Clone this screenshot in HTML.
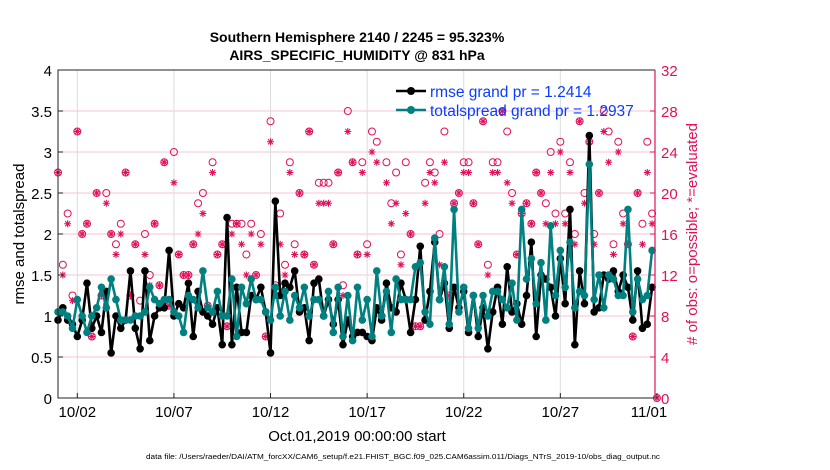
<!DOCTYPE html>
<html><head><meta charset="utf-8"><style>
body{margin:0;background:#fff;}
svg{display:block;font-family:"Liberation Sans",sans-serif;}
</style></head><body>
<svg id="chart" width="830" height="470" viewBox="0 0 830 470">
<text x="357" y="42" text-anchor="middle" font-size="14" font-weight="bold">Southern Hemisphere 2140 / 2245 = 95.323%</text>
<text x="357" y="60" text-anchor="middle" font-size="14" font-weight="bold">AIRS_SPECIFIC_HUMIDITY @ 831 hPa</text>
<g id="grid"></g><g id="counts"></g><g id="lines"></g><g id="axes"></g>
<text transform="translate(24,234) rotate(-90)" text-anchor="middle" font-size="15">rmse and totalspread</text>
<text transform="translate(697,234) rotate(-90)" text-anchor="middle" font-size="15" fill="#e0105a"># of obs: o=possible; *=evaluated</text>
<text x="357" y="441" text-anchor="middle" font-size="15">Oct.01,2019 00:00:00 start</text>
<text x="146" y="459" font-size="7" textLength="514" lengthAdjust="spacingAndGlyphs">data file: /Users/raeder/DAI/ATM_forcXX/CAM6_setup/f.e21.FHIST_BGC.f09_025.CAM6assim.011/Diags_NTrS_2019-10/obs_diag_output.nc</text>
<g>
<line x1="396" y1="91" x2="426" y2="91" stroke="#000" stroke-width="2.5"/><circle cx="411" cy="91" r="4" fill="#000"/>
<text x="430" y="97" font-size="15.5" fill="#0a3cff">rmse grand pr = 1.2414</text>
<line x1="396" y1="110" x2="426" y2="110" stroke="#008080" stroke-width="2.5"/><circle cx="411" cy="110" r="4" fill="#008080"/>
<text x="430" y="116" font-size="15.5" fill="#0a3cff">totalspread grand pr = 1.2937</text>
</g>
</svg>
<script>
const rmse=[0.95,1.1,0.95,0.9,0.75,0.95,1.4,0.85,1.0,0.8,1.3,0.55,1.0,0.85,0.95,1.55,0.85,0.6,1.55,0.7,1.0,1.1,1.1,1.8,1.0,1.15,1.1,1.4,0.75,1.3,1.05,1.0,0.9,1.1,0.65,2.2,0.65,1.35,0.8,0.8,
1.25,1.2,1.35,1.05,0.55,2.4,1.25,1.4,1.35,1.55,1.05,1.1,0.7,1.4,1.45,1.0,1.2,0.9,1.2,0.65,0.95,0.75,0.8,0.8,0.75,0.7,1.1,0.95,1.4,1.1,1.05,1.4,1.2,0.8,1.2,1.85,0.95,1.3,1.9,1.2,1.4,
0.85,1.35,1.1,1.3,0.8,1.25,0.75,1.1,0.6,1.05,1.35,0.9,1.6,1.05,1.15,0.9,1.25,1.9,0.75,1.5,1.45,1.35,1.0,1.7,1.15,2.3,0.65,1.55,1.15,3.2,1.05,1.1,1.5,1.45,1.55,1.3,1.5,1.35,0.95,1.55,0.85,0.9,1.35];
const spread=[1.05,1.05,1.0,0.85,1.2,1.0,0.8,1.0,1.1,1.35,1.1,1.45,1.2,0.95,0.95,0.95,1.0,1.0,1.05,1.35,1.2,1.15,1.2,1.2,1.05,1.0,0.8,1.25,1.2,1.1,1.55,1.1,1.05,1.3,1.0,1.0,1.45,0.75,1.35,1.15,
1.45,1.2,1.2,1.05,0.95,1.35,1.0,1.3,0.95,1.25,1.1,1.35,1.0,1.2,1.2,1.0,1.3,0.8,1.35,0.75,1.25,0.7,1.35,0.95,1.2,0.75,1.55,1.0,1.3,0.8,1.45,1.2,1.2,1.2,1.6,1.65,1.05,0.9,1.95,1.2,1.6,
0.9,2.3,1.05,1.35,0.85,1.25,0.85,1.25,1.0,1.3,1.3,1.2,1.1,1.4,0.95,2.3,1.45,1.7,1.15,1.65,0.95,2.1,1.25,1.8,1.35,1.9,1.1,1.3,1.25,2.85,1.2,1.5,1.1,1.5,1.45,1.25,1.25,2.3,1.05,1.45,1.2,1.25,1.8];
const possible=[22,13,18,10,26,16,17,6,20,10,20,16,15,17,22,10,15,9.5,16,12,17,11,23,9,24,14,12,12,15,19,20,9,23,14,15,7,17,17,17,14,
17,12,16,6,27,11,18,13,23,15,20,14,26,13,21,21,21,15,22,11,28,23,14,23,15,26,25,8,23,19,22,14,23,16,7,7,21,23,22,16,26,
10,19,20,23,23,19,15,27,13,23,23,28,26,20,14,18,19,17,22,20,19,24,18,25,18,23,16,27,20,25,16,20,28,26,15,25,18,15,6,20,17,25,18,0];
const evaluated=[22,12,17,9.5,26,16,17,6,20,10,19,16,14,16,22,10,15,8,14,11,17,11,23,9,21,14,12,12,15,16,18,9,22,14,15,7,16,17,15,12,
16,12,15,6,25,10,15,12,22,14,20,14,26,13,19,19,19,15,22,10,26,23,14,22,14,24,23,8,21,17,19,13,18,16,7,7,19,22,21,13,23,
10,19,20,22,22,19,15,27,12,22,22,28,21,19,14,18,19,17,22,20,17,22,17,24,17,22,15,27,19,25,15,20,26,23,14,24,17,15,6,20,15,22,17,0];
const leftTicks=[0,0.5,1,1.5,2,2.5,3,3.5,4];
const leftTickLabels=["0","0.5","1","1.5","2","2.5","3","3.5","4"];
const rightTicks=[0,4,8,12,16,20,24,28,32];
const dateTickDays=[1,6,11,16,21,26,31];
const dateTickLabels=["10/02","10/07","10/12","10/17","10/22","10/27","11/01"];
const stepDays=0.25;

const L=58,R=655,T=70,B=398,DMAX=30.9;
const xS=d=>L+d/DMAX*(R-L);
const yL=v=>B-v/4*(B-T);
const yR=c=>B-c/32*(B-T);
const NS="http://www.w3.org/2000/svg";
function mk(tag,attrs,parent){const e=document.createElementNS(NS,tag);for(const k in attrs)e.setAttribute(k,attrs[k]);parent.appendChild(e);return e;}
const grid=document.getElementById('grid'),counts=document.getElementById('counts'),lines=document.getElementById('lines'),axes=document.getElementById('axes');
const pink="#e0105a";
leftTicks.forEach((v,i)=>{
  if(v>0&&v<4){const g=mk('line',{x1:L,x2:R,y1:yL(v),y2:yL(v),stroke:'#f3c6d6','stroke-width':1},grid);
  
  }
  const t=mk('text',{x:L-6,y:yL(v)+6,'text-anchor':'end','font-size':15},axes);t.textContent=leftTickLabels[i];
  
  
  mk('line',{x1:L,x2:L+5,y1:yL(v),y2:yL(v),stroke:'#222'},axes);
});
rightTicks.forEach(c=>{
  const t=mk('text',{x:R+6,y:yR(c)+6,'font-size':15,fill:pink},axes);t.textContent=c;
  
  
  mk('line',{x1:R-5,x2:R,y1:yR(c),y2:yR(c),stroke:pink},axes);
});
dateTickDays.forEach((d,i)=>{
  const x=xS(d);
  if(x<R-2){const g=mk('line',{x1:x,x2:x,y1:T,y2:B,stroke:'#dcdcdc'},grid);
  
  }
  mk('line',{x1:x,x2:x,y1:B,y2:B-5,stroke:'#222'},axes);
  const t=mk('text',{x:Math.min(x,R-6),y:B+19,'text-anchor':'middle','font-size':15},axes);t.textContent=dateTickLabels[i];
  
  
});
const frame=mk('path',{d:`M${R},${T}H${L}V${B}H${R}`,fill:'none',stroke:'#222','stroke-width':1},axes);


const rax=mk('line',{x1:R,x2:R,y1:T,y2:B,stroke:pink,'stroke-width':1.2},axes);



possible.forEach((c,i)=>{
  const x=xS(i*stepDays),y=yR(c);
  const e=mk('circle',{cx:x,cy:y,r:3.5,fill:'none',stroke:pink,'stroke-width':1},counts);
  
  
});
evaluated.forEach((c,i)=>{
  const x=xS(i*stepDays),y=yR(c),s=3.5;
  const e=mk('path',{d:`M${x-s},${y}H${x+s}M${x},${y-s}V${y+s}M${x-2.5},${y-2.5}L${x+2.5},${y+2.5}M${x-2.5},${y+2.5}L${x+2.5},${y-2.5}`,stroke:pink,'stroke-width':1.1},counts);
  
  
});
function series(arr,color,name){
  const pts=arr.map((v,i)=>[xS(i*stepDays),yL(v)]);
  const p=mk('polyline',{points:pts.map(q=>q.join(',')).join(' '),fill:'none',stroke:color,'stroke-width':2.6,'stroke-linejoin':'round'},lines);
  
  
  pts.forEach(q=>{const c=mk('circle',{cx:q[0],cy:q[1],r:3.8,fill:color},lines);
    
    });
}
series(rmse,'#000','rmse');
series(spread,'#008080','totalspread');
</script>
</body></html>
